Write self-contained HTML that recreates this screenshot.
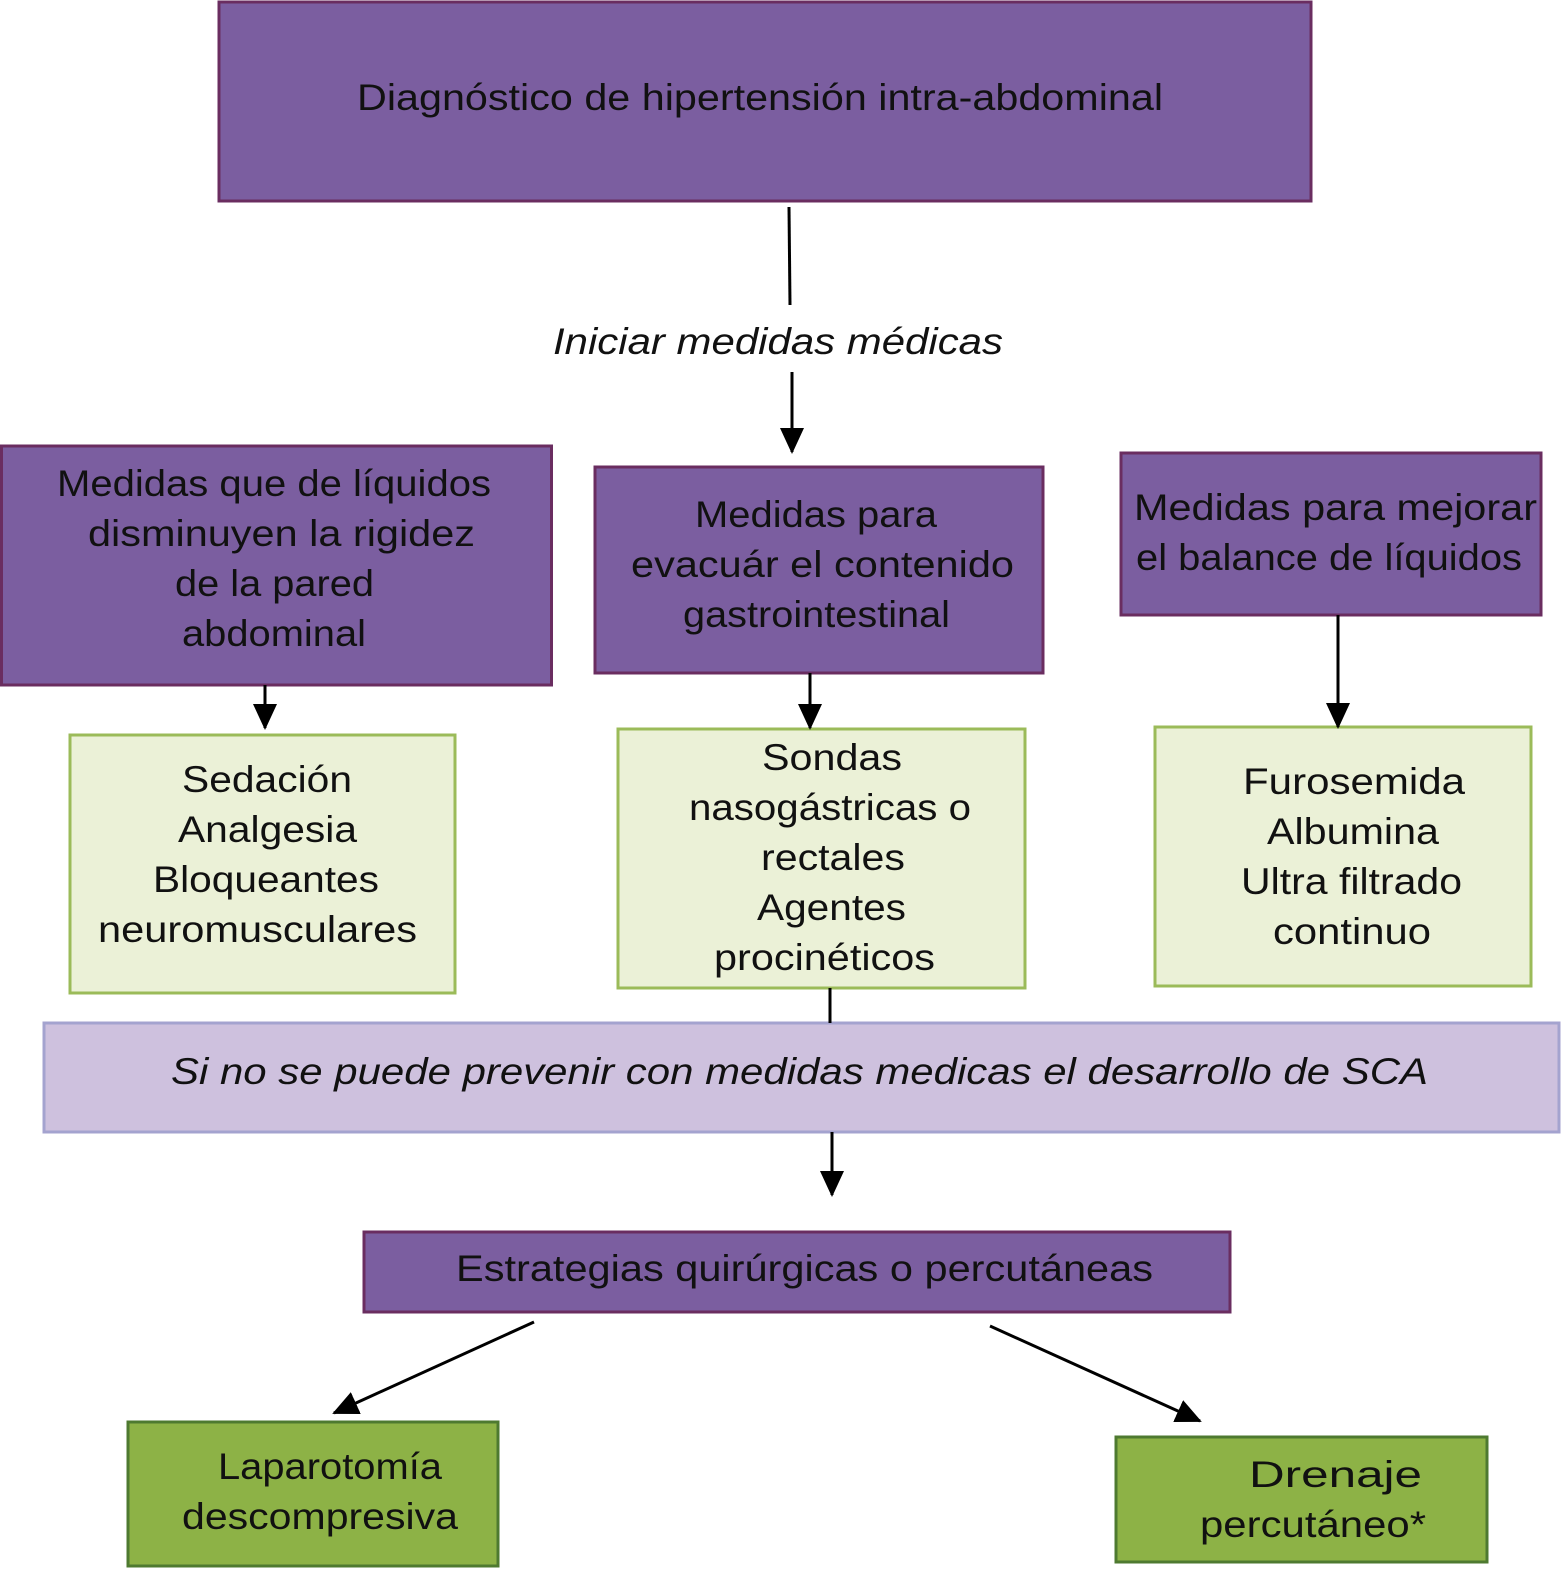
<!DOCTYPE html>
<html><head><meta charset="utf-8"><style>
html,body{margin:0;padding:0;background:#fff;}
svg{display:block;}
text{font-family:"Liberation Sans",Arial,sans-serif;font-size:37px;fill:#111;}
</style></head><body>
<svg width="1563" height="1570" viewBox="0 0 1563 1570" xmlns="http://www.w3.org/2000/svg">
<defs>
<marker id="b" markerWidth="26" markerHeight="24" refX="24" refY="12" orient="auto" markerUnits="userSpaceOnUse"><path d="M0,0 L26,12 L0,24z" fill="#000"/></marker></defs>
<g stroke-width="3">
<rect x="219" y="2" width="1092" height="199" fill="#7B5EA0" stroke="#6A2D60"/>
<rect x="1.5" y="446" width="550" height="239" fill="#7B5EA0" stroke="#6A2D60"/>
<rect x="595" y="467" width="448" height="206" fill="#7B5EA0" stroke="#6A2D60"/>
<rect x="1121" y="453" width="420" height="162" fill="#7B5EA0" stroke="#6A2D60"/>
<rect x="70" y="735" width="385" height="258" fill="#EBF1D7" stroke="#9BBB59"/>
<rect x="618" y="729" width="407" height="259" fill="#EBF1D7" stroke="#9BBB59"/>
<rect x="1155" y="727" width="376" height="259" fill="#EBF1D7" stroke="#9BBB59"/>
<rect x="44" y="1023" width="1515" height="109" fill="#CEC1DE" stroke="#A4A3CF"/>
<rect x="364" y="1232" width="866" height="80" fill="#7B5EA0" stroke="#6A2D60"/>
<rect x="128" y="1422" width="370" height="144" fill="#8DB246" stroke="#4E7A30"/>
<rect x="1116" y="1437" width="371" height="125" fill="#8DB246" stroke="#4E7A30"/>
</g>
<g stroke="#000" stroke-width="3">
<line x1="789" y1="207" x2="790" y2="305"/>
<line x1="792" y1="372" x2="792" y2="452" marker-end="url(#b)"/>
<line x1="265" y1="685" x2="265" y2="728" marker-end="url(#b)"/>
<line x1="810" y1="673" x2="810" y2="728" marker-end="url(#b)"/>
<line x1="1338" y1="615" x2="1338" y2="727" marker-end="url(#b)"/>
<line x1="830" y1="988" x2="830" y2="1023"/>
<line x1="832" y1="1132" x2="832" y2="1195" marker-end="url(#b)"/>
<line x1="534" y1="1322" x2="334" y2="1413" marker-end="url(#b)"/>
<line x1="990" y1="1326" x2="1200" y2="1421" marker-end="url(#b)"/>
</g>
<g lengthAdjust="spacingAndGlyphs">
<text x="357" y="110" textLength="806" lengthAdjust="spacingAndGlyphs">Diagnóstico de hipertensión intra-abdominal</text>
<text x="553" y="354" textLength="450" lengthAdjust="spacingAndGlyphs" font-style="italic">Iniciar medidas médicas</text>
<text x="57" y="496" textLength="434" lengthAdjust="spacingAndGlyphs">Medidas que de líquidos</text>
<text x="88" y="546" textLength="387" lengthAdjust="spacingAndGlyphs">disminuyen la rigidez</text>
<text x="175" y="596" textLength="199" lengthAdjust="spacingAndGlyphs">de la pared</text>
<text x="182" y="646" textLength="184" lengthAdjust="spacingAndGlyphs">abdominal</text>
<text x="695" y="527" textLength="242" lengthAdjust="spacingAndGlyphs">Medidas para</text>
<text x="631" y="577" textLength="383" lengthAdjust="spacingAndGlyphs">evacuár el contenido</text>
<text x="683" y="627" textLength="267" lengthAdjust="spacingAndGlyphs">gastrointestinal</text>
<text x="1134" y="520" textLength="403" lengthAdjust="spacingAndGlyphs">Medidas para mejorar</text>
<text x="1136" y="570" textLength="386" lengthAdjust="spacingAndGlyphs">el balance de líquidos</text>
<text x="182" y="792" textLength="170" lengthAdjust="spacingAndGlyphs">Sedación</text>
<text x="178" y="842" textLength="179" lengthAdjust="spacingAndGlyphs">Analgesia</text>
<text x="153" y="892" textLength="226" lengthAdjust="spacingAndGlyphs">Bloqueantes</text>
<text x="98" y="942" textLength="319" lengthAdjust="spacingAndGlyphs">neuromusculares</text>
<text x="762" y="770" textLength="140" lengthAdjust="spacingAndGlyphs">Sondas</text>
<text x="689" y="820" textLength="282" lengthAdjust="spacingAndGlyphs">nasogástricas o</text>
<text x="761" y="870" textLength="144" lengthAdjust="spacingAndGlyphs">rectales</text>
<text x="757" y="920" textLength="149" lengthAdjust="spacingAndGlyphs">Agentes</text>
<text x="714" y="970" textLength="221" lengthAdjust="spacingAndGlyphs">procinéticos</text>
<text x="1243" y="794" textLength="222" lengthAdjust="spacingAndGlyphs">Furosemida</text>
<text x="1267" y="844" textLength="172" lengthAdjust="spacingAndGlyphs">Albumina</text>
<text x="1241" y="894" textLength="221" lengthAdjust="spacingAndGlyphs">Ultra filtrado</text>
<text x="1273" y="944" textLength="158" lengthAdjust="spacingAndGlyphs">continuo</text>
<text x="171" y="1084" textLength="1257" lengthAdjust="spacingAndGlyphs" font-style="italic">Si no se puede prevenir con medidas medicas el desarrollo de SCA</text>
<text x="456" y="1281" textLength="697" lengthAdjust="spacingAndGlyphs">Estrategias quirúrgicas o percutáneas</text>
<text x="218" y="1479" textLength="224" lengthAdjust="spacingAndGlyphs">Laparotomía</text>
<text x="182" y="1529" textLength="276" lengthAdjust="spacingAndGlyphs">descompresiva</text>
<text x="1249" y="1487" textLength="173" lengthAdjust="spacingAndGlyphs">Drenaje</text>
<text x="1200" y="1537" textLength="226" lengthAdjust="spacingAndGlyphs">percutáneo*</text>
</g>
</svg>
</body></html>
